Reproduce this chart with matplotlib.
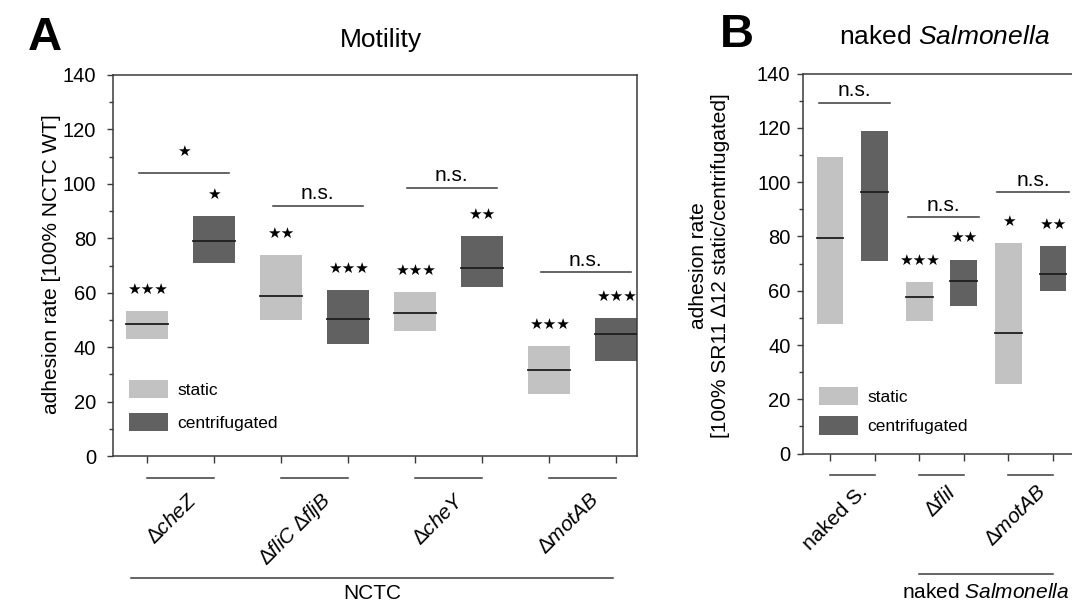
import matplotlib
matplotlib.use('Agg')
import matplotlib.pyplot as plt
from matplotlib.patches import Patch

plt.rcParams['font.family'] = ['Liberation Sans', 'DejaVu Sans']
plt.rcParams['mathtext.fontset'] = 'custom'
plt.rcParams['mathtext.rm'] = 'Liberation Sans'
plt.rcParams['mathtext.it'] = 'Liberation Sans:italic'

LIGHT = '#c2c2c2'
DARK = '#616161'
LINE = '#3a3a3a'

# panel A - NCTC motility mutants (box = low/high, line = median)
a_strains = [r'$\mathrm{∆}\mathit{cheZ}$', r'$\mathrm{∆}\mathit{fliC}\ \mathrm{∆}\mathit{fljB}$',
             r'$\mathrm{∆}\mathit{cheY}$', r'$\mathrm{∆}\mathit{motAB}$']
a_static_low = [43.0, 50.0, 45.9, 22.9]
a_static_med = [48.5, 58.9, 52.7, 31.6]
a_static_high = [53.3, 73.8, 60.2, 40.5]
a_cent_low = [70.8, 41.0, 62.2, 35.0]
a_cent_med = [79.1, 50.5, 69.2, 44.7]
a_cent_high = [88.2, 60.9, 80.9, 50.8]
a_static_sig = ['***', '**', '***', '***']
a_cent_sig = ['*', '***', '**', '***']
a_pair_sig = ['*', 'n.s.', 'n.s.', 'n.s.']
a_pair_y = [104.0, 92.0, 98.5, 67.5]

# panel B - naked Salmonella
b_strains = ['naked S.', r'$\mathrm{∆}\mathit{fliI}$', r'$\mathrm{∆}\mathit{motAB}$']
b_static_low = [47.7, 48.9, 25.7]
b_static_med = [79.6, 57.8, 44.5]
b_static_high = [109.3, 63.1, 77.7]
b_cent_low = [71.0, 54.3, 59.9]
b_cent_med = [96.4, 63.5, 66.0]
b_cent_high = [118.8, 71.5, 76.4]
b_static_sig = ['', '***', '*']
b_cent_sig = ['', '**', '**']
b_pair_sig = ['n.s.', 'n.s.', 'n.s.']
b_pair_y = [129.3, 87.0, 96.2]


def stars(s):
    return s.replace('*', '\u2605')


def sig_text(ax, x, y, s):
    if s == 'n.s.':
        ax.text(x, y + 4.5, s, ha='center', va='center', fontsize=15)
    elif s:
        ax.text(x, y + 8, stars(s), ha='center', va='center', fontsize=11,
                family='DejaVu Sans')


def draw_panel(ax, strains, s_lo, s_med, s_hi, c_lo, c_med, c_hi,
               s_sig, c_sig, pair_sig, pair_y, width, half, lab_dx, lab_y, spacing):
    n = len(strains)
    xs = [2 * i + 1 for i in range(n)]
    xc = [2 * i + 2 for i in range(n)]
    ax.bar(xs, [h - l for h, l in zip(s_hi, s_lo)], bottom=s_lo, width=width,
           color=LIGHT, zorder=2)
    ax.bar(xc, [h - l for h, l in zip(c_hi, c_lo)], bottom=c_lo, width=width,
           color=DARK, zorder=2)
    for x, m in zip(xs + xc, s_med + c_med):
        ax.plot([x - width / 2, x + width / 2], [m, m], color='#1e1e1e', lw=1.3, zorder=3)
    for x, hi, s in zip(xs, s_hi, s_sig):
        sig_text(ax, x, hi, s)
    for x, hi, s in zip(xc, c_hi, c_sig):
        sig_text(ax, x, hi, s)
    for a, b, y, s in zip(xs, xc, pair_y, pair_sig):
        mid = (a + b) / 2 + 0.05
        ax.plot([mid - half, mid + half], [y, y], color=LINE, lw=1.1)
        sig_text(ax, mid, y, s)
    # pair lines and strain names under the axis
    for a, b, name in zip(xs, xc, strains):
        ax.plot([a, b], [-8, -8], color=LINE, lw=1.1, clip_on=False)
        ax.text((a + b) / 2 + lab_dx, lab_y, name, rotation=45, rotation_mode='anchor',
                ha='right', va='center', fontsize=15)

    ax.set_ylim(0, 140)
    ax.set_yticks(range(0, 141, 20))
    ax.set_yticks(range(10, 140, 20), minor=True)
    ax.set_xticks(xs + xc)
    ax.set_xticklabels([])
    ax.tick_params(axis='both', which='both', direction='out', color=LINE, width=1,
                   labelsize=14.5)
    ax.tick_params(axis='y', which='major', length=4)
    ax.tick_params(axis='y', which='minor', length=3)
    ax.tick_params(axis='x', length=5)
    for sp in ax.spines.values():
        sp.set_color(LINE)
        sp.set_linewidth(1.1)
    ax.legend(handles=[Patch(facecolor=LIGHT, label='static'),
                       Patch(facecolor=DARK, label='centrifugated')],
              frameon=False, fontsize=12.5, handlelength=2.25, handleheight=1.25,
              handletextpad=0.55, labelspacing=spacing, borderpad=0, borderaxespad=0,
              loc='lower left', bbox_to_anchor=(0.03, 0.065))
    return xs, xc


W, H = 1072, 603
fig = plt.figure(figsize=(10.72, 6.03), dpi=100)

axA = fig.add_axes([113 / W, 1 - 456 / H, 524 / W, 381 / H])
draw_panel(axA, a_strains, a_static_low, a_static_med, a_static_high,
           a_cent_low, a_cent_med, a_cent_high, a_static_sig, a_cent_sig,
           a_pair_sig, a_pair_y, width=0.63, half=0.67, lab_dx=0.2, lab_y=-15,
           spacing=0.85)
axA.set_xlim(0.493, 8.313)
axA.tick_params(axis='y', pad=8)
axA.plot([0.76, 7.96], [-44.8, -44.8], color=LINE, lw=1.1, clip_on=False)
axA.text(4.36, -50.5, 'NCTC', ha='center', va='center', fontsize=15)

axB = fig.add_axes([803 / W, 1 - 453.6 / H, 277 / W, 380 / H])
draw_panel(axB, b_strains, b_static_low, b_static_med, b_static_high,
           b_cent_low, b_cent_med, b_cent_high, b_static_sig, b_cent_sig,
           b_pair_sig, b_pair_y, width=0.6, half=0.8, lab_dx=0.27, lab_y=-13,
           spacing=0.65)
axB.set_xlim(0.395, 6.605)
axB.tick_params(axis='y', pad=5)
axB.legend_.set_bbox_to_anchor((0.058, 0.05))
axB.plot([3, 6], [-44.4, -44.4], color=LINE, lw=1.1, clip_on=False)
axB.text(4.5, -51, r'naked $\mathit{Salmonella}$', ha='center', va='center', fontsize=15)

fig.text(28 / W, 1 - 38 / H, 'A', fontsize=34, fontweight='bold', ha='left', va='center')
fig.text(381 / W, 1 - 40 / H, 'Motility', fontsize=19, ha='center', va='center')
fig.text(720 / W, 1 - 35 / H, 'B', fontsize=34, fontweight='bold', ha='left', va='center')
fig.text(944 / W, 1 - 37 / H, r'naked $\mathit{Salmonella}$', fontsize=19,
         ha='center', va='center')
fig.text(52 / W, 1 - 264 / H, 'adhesion rate [100% NCTC WT]', rotation=90,
         fontsize=15, ha='center', va='center')
fig.text(710 / W, 1 - 266 / H, 'adhesion rate\n[100% SR11 ∆12 static/centrifugated]',
         rotation=90, fontsize=15, ha='center', va='center', multialignment='center')

fig.savefig('out.png', dpi=100)
